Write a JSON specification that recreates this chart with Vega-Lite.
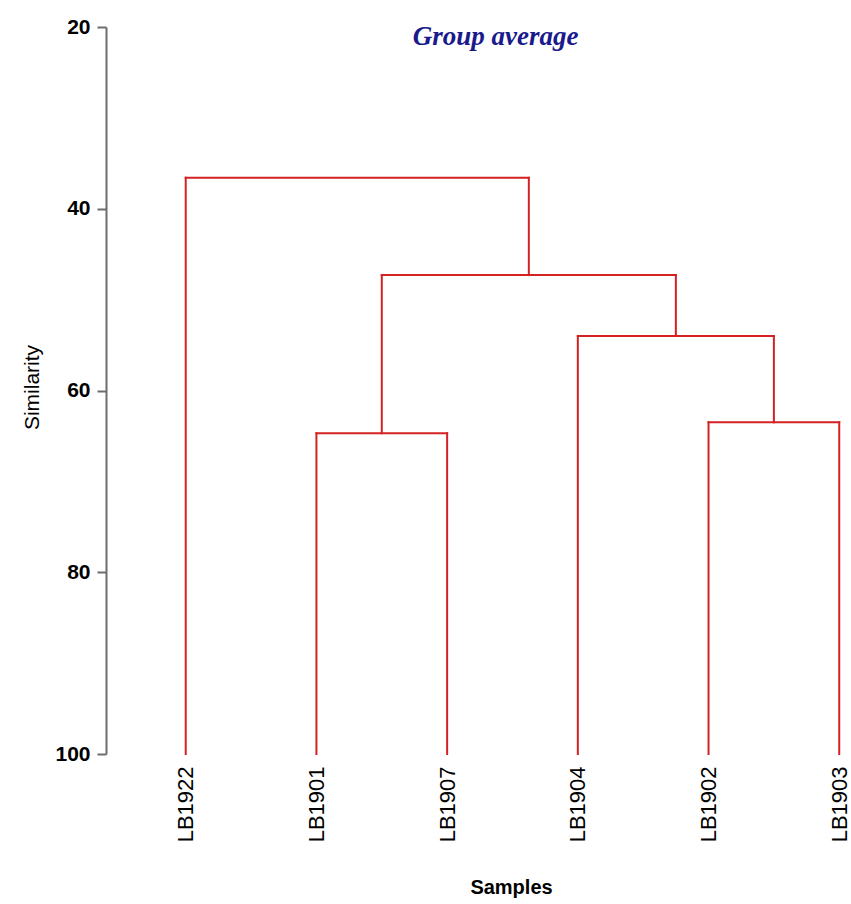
{
  "$schema": "https://vega.github.io/schema/vega-lite/v6.json",
  "width": 745,
  "height": 727,
  "autosize": {"type": "none"},
  "padding": {"left": 106, "top": 27, "right": 0, "bottom": 150},
  "background": "white",
  "title": {
    "text": "Group average",
    "anchor": "middle",
    "dx": 17,
    "offset": -17,
    "dy": 39,
    "baseline": "alphabetic",
    "font": "Liberation Serif",
    "fontSize": 27,
    "fontStyle": "italic",
    "fontWeight": "bold",
    "color": "#1a1a8c"
  },
  "data": {
    "values": [
      {"x1": 1, "x2": 1, "y1": 100, "y2": 36.6},
      {"x1": 2, "x2": 2, "y1": 100, "y2": 64.7},
      {"x1": 3, "x2": 3, "y1": 100, "y2": 64.7},
      {"x1": 4, "x2": 4, "y1": 100, "y2": 54.0},
      {"x1": 5, "x2": 5, "y1": 100, "y2": 63.5},
      {"x1": 6, "x2": 6, "y1": 100, "y2": 63.5},
      {"x1": 2.5, "x2": 2.5, "y1": 64.7, "y2": 47.3},
      {"x1": 5.5, "x2": 5.5, "y1": 63.5, "y2": 54.0},
      {"x1": 4.75, "x2": 4.75, "y1": 54.0, "y2": 47.3},
      {"x1": 3.625, "x2": 3.625, "y1": 47.3, "y2": 36.6},
      {"x1": 2, "x2": 3, "y1": 64.7, "y2": 64.7},
      {"x1": 5, "x2": 6, "y1": 63.5, "y2": 63.5},
      {"x1": 4, "x2": 5.5, "y1": 54.0, "y2": 54.0},
      {"x1": 2.5, "x2": 4.75, "y1": 47.3, "y2": 47.3},
      {"x1": 1, "x2": 3.625, "y1": 36.6, "y2": 36.6}
    ]
  },
  "mark": {"type": "rule", "color": "#d42222", "strokeWidth": 2, "strokeCap": "square"},
  "encoding": {
    "x": {
      "field": "x1",
      "type": "quantitative",
      "scale": {"domain": [0.39, 6.09], "nice": false, "zero": false},
      "axis": {
        "values": [1, 2, 3, 4, 5, 6],
        "labelExpr": "['LB1922','LB1901','LB1907','LB1904','LB1902','LB1903'][datum.value - 1]",
        "labelAngle": 270,
        "labelAlign": "right",
        "labelBaseline": "middle",
        "labelPadding": 12,
        "labelFont": "Liberation Sans",
        "labelFontSize": 22,
        "labelColor": "black",
        "domain": false,
        "ticks": false,
        "grid": false,
        "title": "Samples",
        "titleFont": "Liberation Sans",
        "titleFontSize": 20,
        "titleFontWeight": "bold",
        "titleColor": "black",
        "titleX": 405,
        "titleY": 139,
        "titleAlign": "center",
        "titleBaseline": "alphabetic"
      }
    },
    "x2": {"field": "x2"},
    "y": {
      "field": "y1",
      "type": "quantitative",
      "scale": {"domain": [20, 100], "reverse": true, "nice": false, "zero": false},
      "axis": {
        "values": [20, 40, 60, 80, 100],
        "labelFont": "Liberation Sans",
        "labelFontSize": 21,
        "labelFontWeight": "bold",
        "labelColor": "black",
        "labelPadding": 7,
        "tickSize": 9,
        "tickColor": "#6d6d6d",
        "tickWidth": 2,
        "domainColor": "#6d6d6d",
        "domainWidth": 2,
        "grid": false,
        "title": "Similarity",
        "titleFont": "Liberation Sans",
        "titleFontSize": 21,
        "titleFontWeight": "normal",
        "titleColor": "black",
        "titleAngle": 270,
        "titleX": -74,
        "titleY": 360,
        "titleAlign": "center",
        "titleBaseline": "middle"
      }
    },
    "y2": {"field": "y2"}
  },
  "config": {"view": {"stroke": null}}
}
